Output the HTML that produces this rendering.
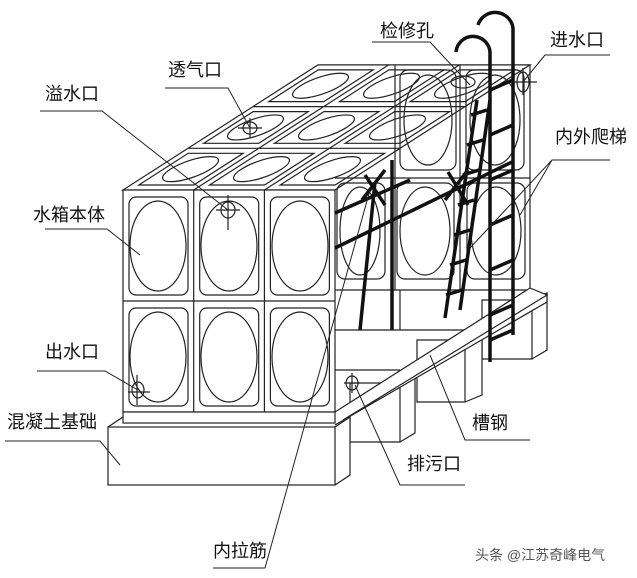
<!DOCTYPE html>
<html><head><meta charset="utf-8"><style>
html,body{margin:0;padding:0;background:#fff;}
svg{display:block;}
text{font-family:"Liberation Sans","Noto Sans CJK SC",sans-serif;fill:#111;font-size:18px;}
</style></head><body>
<svg width="637" height="578" viewBox="0 0 637 578" xmlns="http://www.w3.org/2000/svg">
<rect width="637" height="578" fill="#fff"/>
<g fill="none" stroke="#222" stroke-width="1.2">
<!-- right cutaway back wall panels -->
<path d="M335 178 L530 178 M335 290 L530 290 M530 65 L530 290 M395 65 L395 290 M460 65 L460 290"/>
<rect x="400" y="70" width="56" height="100" rx="8"/><ellipse cx="428" cy="120" rx="24" ry="45"/>
<rect x="466" y="70" width="58" height="100" rx="8"/><ellipse cx="495" cy="120" rx="25" ry="45"/>
<rect x="397" y="183" width="57" height="96" rx="8"/><ellipse cx="425" cy="231" rx="25" ry="44"/>
<rect x="467" y="183" width="58" height="96" rx="8"/><ellipse cx="496" cy="231" rx="25" ry="44"/>
<rect x="337" y="183" width="48" height="96" rx="8"/><ellipse cx="360" cy="231" rx="20" ry="44"/>
<path d="M335 330 H465 M400 290 V330 M335 370 H400"/>
<!-- concrete blocks behind -->
<g fill="#fff">
<path d="M482 300 H532 V359 H482 Z M532 300 L547 293 L547 350 L532 359"/>
<path d="M417 340 H465 V402 H417 Z M465 340 L482 335 L482 395 L465 402"/>
<path d="M350 383 H400 V442 H350 Z M400 383 L415 377 L415 433 L400 442"/>
</g>
<!-- channel steel -->
<path d="M335 412 L530 288 L547 295 L343 420 M335 425 L547 302 L547 295" fill="#fff"/>
<!-- top face -->
<g transform="matrix(1,0,0.65,-0.417,123,190)">
<path vector-effect="non-scaling-stroke" d="M0 0 H212 V300 H0 Z M70.7 0 V300 M141.4 0 V300 M0 100 H212 M0 200 H212"/>
<rect vector-effect="non-scaling-stroke" x="8" y="12" width="55" height="76"/><ellipse vector-effect="non-scaling-stroke" cx="35" cy="50" rx="20" ry="30"/>
<rect vector-effect="non-scaling-stroke" x="78.7" y="12" width="55" height="76"/><ellipse vector-effect="non-scaling-stroke" cx="106" cy="50" rx="20" ry="30"/>
<rect vector-effect="non-scaling-stroke" x="149.4" y="12" width="55" height="76"/><ellipse vector-effect="non-scaling-stroke" cx="177" cy="50" rx="20" ry="30"/>
<rect vector-effect="non-scaling-stroke" x="8" y="112" width="55" height="76"/><ellipse vector-effect="non-scaling-stroke" cx="35" cy="150" rx="20" ry="30"/>
<rect vector-effect="non-scaling-stroke" x="78.7" y="112" width="55" height="76"/><ellipse vector-effect="non-scaling-stroke" cx="106" cy="150" rx="20" ry="30"/>
<rect vector-effect="non-scaling-stroke" x="149.4" y="112" width="55" height="76"/><ellipse vector-effect="non-scaling-stroke" cx="177" cy="150" rx="20" ry="30"/>
<rect vector-effect="non-scaling-stroke" x="8" y="212" width="55" height="76"/><ellipse vector-effect="non-scaling-stroke" cx="35" cy="250" rx="20" ry="30"/>
<rect vector-effect="non-scaling-stroke" x="78.7" y="212" width="55" height="76"/><ellipse vector-effect="non-scaling-stroke" cx="106" cy="250" rx="20" ry="30"/>
<rect vector-effect="non-scaling-stroke" x="149.4" y="212" width="55" height="76"/><ellipse vector-effect="non-scaling-stroke" cx="177" cy="250" rx="20" ry="30"/>
</g>
<!-- front face -->
<rect x="123" y="190" width="212" height="222" fill="#fff"/>
<path d="M193.7 190 V412 M264.4 190 V412 M123 301 H335"/>
<rect x="129" y="197" width="59" height="98" rx="7"/><ellipse cx="158" cy="246" rx="28" ry="45"/>
<rect x="199.7" y="197" width="59" height="98" rx="7"/><ellipse cx="229" cy="246" rx="28" ry="45"/>
<rect x="270.4" y="197" width="59" height="98" rx="7"/><ellipse cx="300" cy="246" rx="28" ry="45"/>
<rect x="129" y="308" width="59" height="98" rx="7"/><ellipse cx="158" cy="357" rx="28" ry="45"/>
<rect x="199.7" y="308" width="59" height="98" rx="7"/><ellipse cx="229" cy="357" rx="28" ry="45"/>
<rect x="270.4" y="308" width="59" height="98" rx="7"/><ellipse cx="300" cy="357" rx="28" ry="45"/>
<!-- base strip and slab -->
<rect x="123" y="412" width="212" height="11" fill="#fff"/>
<path d="M108 427 L123 417 M335 427 L350 417 L350 475 L335 485" fill="#fff"/>
<rect x="108" y="427" width="227" height="58" fill="#fff"/>
<!-- fittings -->
<ellipse cx="228" cy="210" rx="7" ry="8"/><path d="M216 210 H240 M228 195 V230"/>
<ellipse cx="250" cy="128" rx="7" ry="6"/><path d="M238 128 H262 M250 118 V138"/>
<ellipse cx="138" cy="390" rx="6" ry="8"/><path d="M128 392 H150 M137 375 V405"/>
<ellipse cx="352" cy="383" rx="6" ry="7"/><path d="M344 383 H360 M352 373 V393"/>
<ellipse cx="523" cy="82" rx="6" ry="10"/><path d="M512 82 H537 M523 68 V95"/>
<ellipse cx="463" cy="82" rx="12" ry="6"/>
</g>
<!-- thick bars and ladders -->
<g fill="none" stroke="#111" stroke-width="3.5">
<path d="M335 248 L512 162"/>
<path d="M335 213 L410 180"/>
<path d="M365 175 L385 205 M385 170 L362 200 M448 172 L468 205 M468 170 L445 200"/>
<path d="M392 160 L392 330 M375 182 L360 330"/>
<path d="M477 100 L445 318 M490 100 L460 310"/>
<path d="M446 295 L462 290 M450 265 L466 260 M454 235 L470 230 M458 205 L474 200 M463 175 L479 170 M467 145 L483 140 M471 115 L487 110"/>
<path d="M490 362 L490 55 A17 17 0 0 0 456 52"/>
<path d="M513 335 L513 28 A18 18 0 0 0 478 25"/>
<path d="M490 90 L513 80 M490 135 L513 125 M490 180 L513 170 M490 225 L513 215 M490 270 L513 260 M490 315 L513 305 M490 340 L513 330"/>
</g>
<!-- leaders -->
<g fill="none" stroke="#222" stroke-width="1">
<path d="M40 111 H102 L228 210"/>
<path d="M165 88 H228 L250 128"/>
<path d="M45 229 H107 L140 255"/>
<path d="M37 371 H105 L138 390"/>
<path d="M5 441 H100 L120 465"/>
<path d="M372 42 H430 L470 85"/>
<path d="M610 55 H545 L523 82"/>
<path d="M610 160 H552 L470 248 M552 160 L520 215"/>
<path d="M530 440 H465 L430 355"/>
<path d="M465 485 H400 L355 385"/>
<path d="M213 568 H265 L370 190"/>
</g>
<text x="380" y="37">检修孔</text>
<text x="550" y="46">进水口</text>
<text x="168" y="76">透气口</text>
<text x="45" y="100">溢水口</text>
<text x="555" y="143">内外爬梯</text>
<text x="33" y="221">水箱本体</text>
<text x="45" y="358">出水口</text>
<text x="7" y="428">混凝土基础</text>
<text x="472" y="429">槽钢</text>
<text x="407" y="470">排污口</text>
<text x="213" y="557">内拉筋</text>
<text x="475" y="560" style="font-size:14px;fill:#555">头条 @江苏奇峰电气</text>
</svg>
</body></html>
